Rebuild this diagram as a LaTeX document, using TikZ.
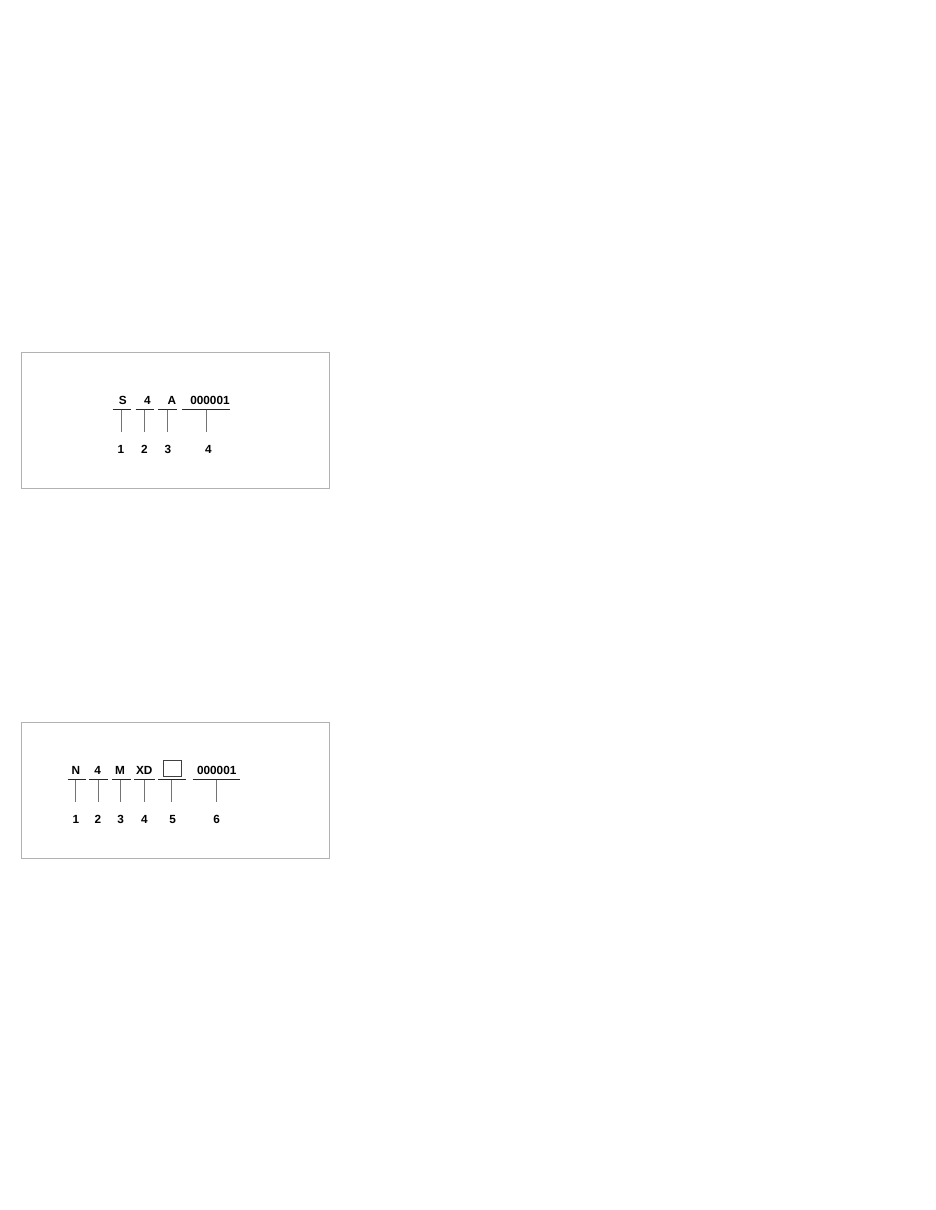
\documentclass[tikz,border=0pt]{standalone}
\usepackage{fontspec}
\setmainfont{Liberation Sans}
\begin{document}
\begin{tikzpicture}[x=1pt,y=-1pt,
  frame/.style={draw=black!30,line width=0.8pt},
  code/.style={font=\fontsize{11.8}{13}\selectfont\bfseries,inner sep=0pt,text height=8.4pt,text depth=0pt,anchor=center},
  num/.style={font=\fontsize{11.8}{13}\selectfont\bfseries,inner sep=0pt,text height=8.4pt,text depth=0pt,anchor=center},
  uline/.style={draw=black!85,line width=1.1pt},
  lead/.style={draw=black!55,line width=0.8pt,shorten >=13pt},
  sqbox/.style={draw=black!75,line width=0.8pt,minimum width=17.5pt,minimum height=16pt,inner sep=0pt}]
\useasboundingbox (0,0) rectangle (935,1210);
\fill[white] (0,0) rectangle (935,1210);
% ---------- Box 1 ----------
\draw[frame] (21,352.5) rectangle (329,488);
\node[code] (s1) at (122.7,400) {S};
\node[code] (s2) at (147.5,400) {4};
\node[code] (s3) at (172,400) {A};
\node[code] (s4) at (210,400) {000001};
\coordinate (u1) at (121.8,409.5);
\coordinate (u2) at (144.5,409.5);
\coordinate (u3) at (167.2,409.5);
\coordinate (u4) at (206.5,409.5);
\draw[uline] (112.7,409.5) -- (131,409.5);
\draw[uline] (135.7,409.5) -- (154.3,409.5);
\draw[uline] (158.3,409.5) -- (176.7,409.5);
\draw[uline] (182.3,409.5) -- (230,409.5);
\node[num] (a1) at (120.8,449) {1};
\node[num] (a2) at (144.3,449) {2};
\node[num] (a3) at (168,449) {3};
\node[num] (a4) at (208.5,449) {4};
\draw[lead] (u1) -- (u1 |- a1.north);
\draw[lead] (u2) -- (u2 |- a2.north);
\draw[lead] (u3) -- (u3 |- a3.north);
\draw[lead] (u4) -- (u4 |- a4.north);
% ---------- Box 2 ----------
\draw[frame] (21,722.5) rectangle (329,858);
\node[code] (t1) at (76,770) {N};
\node[code] (t2) at (97.7,770) {4};
\node[code] (t3) at (120,770) {M};
\node[code] (t4) at (144.3,770) {XD};
\node[sqbox] (t5) at (172.2,768) {};
\node[code] (t6) at (216.7,770) {000001};
\coordinate (v1) at (75.7,779.5);
\coordinate (v2) at (98,779.5);
\coordinate (v3) at (120.7,779.5);
\coordinate (v4) at (144.3,779.5);
\coordinate (v5) at (171.7,779.5);
\coordinate (v6) at (216.7,779.5);
\draw[uline] (67.7,779.5) -- (85.7,779.5);
\draw[uline] (89.3,779.5) -- (108,779.5);
\draw[uline] (112.3,779.5) -- (131,779.5);
\draw[uline] (134.3,779.5) -- (155,779.5);
\draw[uline] (158.3,779.5) -- (185.7,779.5);
\draw[uline] (192.7,779.5) -- (240,779.5);
\node[num] (b1) at (76,819) {1};
\node[num] (b2) at (98,819) {2};
\node[num] (b3) at (120.7,819) {3};
\node[num] (b4) at (144.3,819) {4};
\node[num] (b5) at (172.7,819) {5};
\node[num] (b6) at (216.7,819) {6};
\draw[lead] (v1) -- (v1 |- b1.north);
\draw[lead] (v2) -- (v2 |- b2.north);
\draw[lead] (v3) -- (v3 |- b3.north);
\draw[lead] (v4) -- (v4 |- b4.north);
\draw[lead] (v5) -- (v5 |- b5.north);
\draw[lead] (v6) -- (v6 |- b6.north);
\end{tikzpicture}
\end{document}
